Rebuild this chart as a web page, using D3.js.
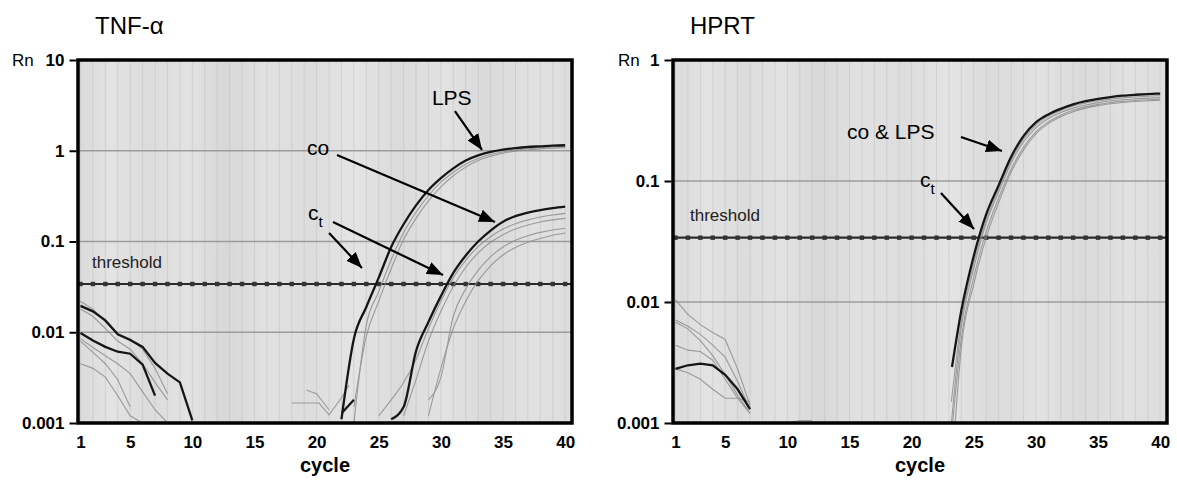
<!DOCTYPE html>
<html>
<head>
<meta charset="utf-8">
<script src="https://cdn.jsdelivr.net/npm/d3@7/dist/d3.min.js"></script>
<style>
  body { margin: 0; background: #fff; }
  svg { display: block; font-family: "Liberation Sans", Arial, sans-serif; }
</style>
</head>
<body>
<svg id="chart" width="1177" height="486"></svg>
<script>
// values, [cycle, Rn]
const cycleTicks = [1, 5, 10, 15, 20, 25, 30, 35, 40];
const thresholdRn = 0.034;
const tnfTicks = [0.001, 0.01, 0.1, 1, 10];
const hprtTicks = [0.001, 0.01, 0.1, 1];

// TNF-alpha : LPS group
const tnfLps = [[22,0.0011],[23,0.0085],[24,0.019],[25,0.04],[26,0.087],[27,0.155],[28,0.25],[29,0.37],[30,0.5],
  [31,0.64],[32,0.78],[33,0.89],[34,0.97],[35,1.03],[36,1.07],[37,1.1],[38,1.12],[39,1.14],[40,1.15]];
const tnfLpsRepA = [[23,0.001],[24,0.012],[25,0.028],[26,0.063],[27,0.125],[28,0.21],[29,0.32],[30,0.45],[31,0.58],
  [32,0.71],[33,0.82],[34,0.91],[35,0.97],[36,1.02],[37,1.05],[38,1.08],[39,1.1],[40,1.11]];
const tnfLpsRepB = [[23,0.0015],[24,0.009],[25,0.022],[26,0.05],[27,0.105],[28,0.18],[29,0.28],[30,0.4],[31,0.53],
  [32,0.66],[33,0.78],[34,0.87],[35,0.94],[36,0.99],[37,1.02],[38,1.05],[39,1.07],[40,1.08]];
const tnfStub = [[22.05,0.0013],[23,0.0018]];

// TNF-alpha : control (co) group
const tnfCo = [[26,0.0011],[27,0.0015],[28,0.0062],[29,0.013],[30,0.025],[31,0.045],[32,0.07],[33,0.1],[34,0.132],
  [35,0.165],[36,0.19],[37,0.208],[38,0.222],[39,0.233],[40,0.242]];
const tnfCoRepA = [[27,0.0012],[28,0.003],[29,0.008],[30,0.017],[31,0.032],[32,0.052],[33,0.075],[34,0.098],[35,0.119],
  [36,0.137],[37,0.152],[38,0.164],[39,0.173],[40,0.18]];
const tnfCoRepB = [[29,0.0018],[30,0.0032],[31,0.015],[32,0.03],[33,0.048],[34,0.068],[35,0.087],[36,0.103],[37,0.116],
  [38,0.126],[39,0.134],[40,0.14]];
const tnfCoRepC = [[29,0.0012],[30,0.004],[31,0.011],[32,0.022],[33,0.037],[34,0.054],[35,0.071],[36,0.086],[37,0.098],
  [38,0.108],[39,0.117],[40,0.124]];
const tnfCoRepD = [[25,0.0012],[26,0.0018],[27,0.0028],[28,0.005],[29,0.011],[30,0.022],[31,0.04],[32,0.062],[33,0.088],
  [34,0.113],[35,0.137],[36,0.157],[37,0.173],[38,0.186],[39,0.196],[40,0.204]];
const tnfNoiseA = [[18,0.00166],[20.2,0.00166],[21,0.00123],[22,0.0019],[22.6,0.0026]];
const tnfNoiseB = [[19.2,0.0023],[20,0.0021],[21,0.0014]];

// TNF-alpha : baseline cycles
const tnfBaseA = [[1,0.0195],[2,0.017],[3,0.0135],[4,0.0095],[5,0.0082],[6,0.0069],[7,0.0046],[8,0.0035],[9,0.0028],[10,0.00107]];
const tnfBaseB = [[1,0.0098],[2,0.0081],[3,0.0069],[4,0.0061],[5,0.0058],[6,0.0044],[7,0.002]];
const tnfBaseRep = [
  [[1,0.022],[2,0.018],[3,0.013],[4,0.0095],[5,0.0085],[6,0.0065],[7,0.004],[8,0.0021]],
  [[1,0.018],[2,0.015],[3,0.011],[4,0.008],[5,0.0065],[6,0.0045],[7,0.0028],[8,0.0018]],
  [[1,0.0085],[2,0.0068],[3,0.0055],[4,0.0045],[5,0.0035],[6,0.0022],[7,0.0014],[8,0.001]],
  [[1,0.008],[2,0.006],[3,0.0045],[4,0.003],[5,0.0015]],
  [[1,0.0045],[2,0.004],[3,0.0032],[4,0.002],[5,0.0012],[6,0.001]]
];

// HPRT : co & LPS group
const hprtMain = [[23.25,0.0029],[24,0.0085],[25,0.024],[26,0.053],[27,0.092],[28,0.158],[29,0.235],[30,0.305],[31,0.355],
  [32,0.395],[33,0.43],[34,0.457],[35,0.478],[36,0.494],[37,0.507],[38,0.516],[39,0.523],[40,0.528]];
const hprtRep = [
  [[23.2,0.0015],[24,0.007],[25,0.021],[26,0.048],[27,0.086],[28,0.148],[29,0.222],[30,0.29],[31,0.342],[32,0.383],
   [33,0.416],[34,0.441],[35,0.46],[36,0.474],[37,0.486],[38,0.495],[39,0.502],[40,0.507]],
  [[23.2,0.001],[24,0.0062],[25,0.019],[26,0.045],[27,0.081],[28,0.14],[29,0.21],[30,0.275],[31,0.328],[32,0.368],
   [33,0.4],[34,0.425],[35,0.444],[36,0.458],[37,0.469],[38,0.477],[39,0.484],[40,0.49]],
  [[23.3,0.001],[24,0.005],[25,0.016],[26,0.038],[27,0.072],[28,0.125],[29,0.19],[30,0.255],[31,0.308],[32,0.35],
   [33,0.384],[34,0.41],[35,0.43],[36,0.444],[37,0.455],[38,0.463],[39,0.469],[40,0.474]],
  [[23.5,0.001],[24,0.0042],[25,0.014],[26,0.034],[27,0.066],[28,0.118],[29,0.18],[30,0.245],[31,0.298],[32,0.34],
   [33,0.374],[34,0.4],[35,0.42],[36,0.435],[37,0.446],[38,0.454],[39,0.46],[40,0.465]]
];
const hprtBase = [[1,0.0028],[2,0.003],[3,0.0031],[4,0.003],[5,0.0025],[6,0.0019],[7,0.0013]];
const hprtBaseRep = [
  [[1,0.0104],[2,0.0079],[3,0.0065],[4,0.0056],[5,0.0049],[6,0.0028],[7,0.0014]],
  [[1,0.0071],[2,0.0063],[3,0.0054],[4,0.0044],[5,0.0035],[6,0.0022],[7,0.0013]],
  [[1,0.0068],[2,0.006],[3,0.0048],[4,0.0036],[5,0.0025],[6,0.0017],[7,0.0012]],
  [[1,0.0044],[2,0.004],[3,0.0039],[4,0.0033],[5,0.0023],[6,0.0016],[7,0.0012]],
  [[1,0.0028],[2,0.0026],[3,0.0023],[4,0.0019],[5,0.0016],[6,0.0016],[7,0.0015]]
];
const hprtNoise = [[10,0.001],[11,0.00105],[12,0.00105]];

// layout
const plotTop = 60, plotBottom = 423, plotW = 494;
const cycleDomain = [0.8, 40.55];

const svg = d3.select("#chart");
const defs = svg.append("defs");

defs.append("marker")
    .attr("id", "arrow")
    .attr("viewBox", "0 -7 16 14")
    .attr("refX", 16)
    .attr("refY", 0)
    .attr("markerUnits", "userSpaceOnUse")
    .attr("markerWidth", 16)
    .attr("markerHeight", 14)
    .attr("orient", "auto")
  .append("path")
    .attr("d", "M0,-6.5L16,0L0,6.5Z")
    .attr("fill", "#000");

// scanned paper look: soft vertical banding
const band = defs.append("linearGradient").attr("id", "bands").attr("x1", 0).attr("x2", 1).attr("y1", 0).attr("y2", 0);
[["0", "#dbdbdb"], ["0.07", "#e3e3e3"], ["0.14", "#dcdcdc"], ["0.22", "#e2e2e2"], ["0.3", "#d8d8d8"], ["0.38", "#e1e1e1"],
 ["0.47", "#dddddd"], ["0.56", "#e4e4e4"], ["0.65", "#dbdbdb"], ["0.74", "#e2e2e2"], ["0.83", "#dadada"], ["0.92", "#e1e1e1"],
 ["1", "#dddddd"]].forEach(s => band.append("stop").attr("offset", s[0]).attr("stop-color", s[1]));

const panels = [
  {
    id: "tnf", left: 78, title: "TNF-\u03b1", yDomain: [0.001, 10], yTicks: tnfTicks, rnX: 12,
    gray: [tnfLpsRepA, tnfLpsRepB, tnfCoRepA, tnfCoRepB, tnfCoRepC, tnfCoRepD],
    grayBase: [tnfNoiseA, tnfNoiseB].concat(tnfBaseRep),
    dark: [tnfLps, tnfCo],
    darkBase: [tnfStub, tnfBaseA, tnfBaseB],
    thresholdLabel: [1.93, 0.051],
    texts: [
      {t: "LPS", at: [29.28, 3.19]},
      {t: "co", at: [19.23, 0.90]},
      {t: "c", sub: "t", at: [19.31, 0.173]}
    ],
    arrows: [
      [[31.13, 2.74], [33.31, 1.02]],
      [[21.64, 0.90], [34.35, 0.164]],
      [[21.0, 0.124], [23.65, 0.051]],
      [[21.32, 0.164], [30.17, 0.0428]]
    ]
  },
  {
    id: "hprt", left: 673, title: "HPRT", yDomain: [0.001, 1], yTicks: hprtTicks, rnX: 618,
    gray: hprtRep,
    grayBase: hprtBaseRep.concat([hprtNoise]),
    dark: [hprtMain],
    darkBase: [hprtBase],
    thresholdLabel: [2.17, 0.0467],
    texts: [
      {t: "co & LPS", at: [14.8, 0.222]},
      {t: "c", sub: "t", at: [20.67, 0.089]}
    ],
    arrows: [
      [[23.97, 0.231], [27.27, 0.177]],
      [[22.36, 0.0796], [25.02, 0.0401]]
    ]
  }
];

panels.forEach(drawPanel);

function drawPanel(p) {
  const x = d3.scaleLinear().domain(cycleDomain).range([p.left, p.left + plotW]);
  const y = d3.scaleLog().domain(p.yDomain).range([plotBottom, plotTop]);
  const g = svg.append("g");

  defs.append("clipPath").attr("id", "clip-" + p.id)
    .append("rect").attr("x", p.left).attr("y", plotTop).attr("width", plotW).attr("height", plotBottom - plotTop);

  g.append("rect")
      .attr("x", p.left).attr("y", plotTop)
      .attr("width", plotW).attr("height", plotBottom - plotTop)
      .attr("fill", "url(#bands)");

  // faint vertical rulings, one per cycle
  g.append("g").selectAll("line")
    .data(d3.range(1, 41))
    .join("line")
      .attr("x1", d => x(d)).attr("x2", d => x(d))
      .attr("y1", plotTop).attr("y2", plotBottom)
      .attr("stroke", "#bcbcbc").attr("stroke-width", 1).attr("opacity", 0.45);

  // decade lines
  g.append("g").selectAll("line")
    .data(p.yTicks.slice(1, -1))
    .join("line")
      .attr("x1", p.left).attr("x2", p.left + plotW)
      .attr("y1", d => y(d)).attr("y2", d => y(d))
      .attr("stroke", "#9c9c9c").attr("stroke-width", 1.5);

  const plot = g.append("g").attr("clip-path", "url(#clip-" + p.id + ")");

  // threshold with square markers
  plot.append("line")
      .attr("x1", p.left).attr("x2", p.left + plotW)
      .attr("y1", y(thresholdRn)).attr("y2", y(thresholdRn))
      .attr("stroke", "#2a2a2a").attr("stroke-width", 2.2);
  plot.append("g").selectAll("rect")
    .data(d3.range(1, 41))
    .join("rect")
      .attr("x", d => x(d) - 2.2).attr("y", y(thresholdRn) - 2.2)
      .attr("width", 4.4).attr("height", 4.4)
      .attr("fill", "#333");

  const smooth = d3.line()
      .x(d => x(d[0]))
      .y(d => y(d[1]))
      .curve(d3.curveMonotoneX);
  const straight = d3.line()
      .x(d => x(d[0]))
      .y(d => y(d[1]));

  const gray = plot.append("g")
      .attr("fill", "none").attr("stroke", "#8a8a8a")
      .attr("stroke-width", 1.1).attr("opacity", 0.8);
  gray.selectAll(".s").data(p.gray).join("path").attr("class", "s").attr("d", smooth);
  gray.selectAll(".b").data(p.grayBase).join("path").attr("class", "b").attr("d", straight);

  const dark = plot.append("g")
      .attr("fill", "none").attr("stroke", "#161616").attr("stroke-width", 2.3);
  dark.selectAll(".s").data(p.dark).join("path").attr("class", "s").attr("d", smooth);
  dark.selectAll(".b").data(p.darkBase).join("path").attr("class", "b").attr("d", straight);

  // frame
  g.append("rect")
      .attr("x", p.left).attr("y", plotTop)
      .attr("width", plotW).attr("height", plotBottom - plotTop)
      .attr("fill", "none").attr("stroke", "#000").attr("stroke-width", 3.5);

  // axes
  const yAxis = g.append("g")
      .attr("transform", "translate(" + (p.left - 1.5) + ",0)")
      .call(d3.axisLeft(y).tickValues(p.yTicks).tickFormat(d3.format("~g")).tickSize(7).tickPadding(5));
  yAxis.select(".domain").remove();
  yAxis.selectAll("line").attr("stroke-width", 2);
  yAxis.selectAll("text").attr("font-size", 17).attr("font-weight", "bold").attr("font-family", "Liberation Sans, Arial, sans-serif").attr("fill", "#000");

  const xAxis = g.append("g")
      .attr("transform", "translate(0," + plotBottom + ")")
      .call(d3.axisBottom(x).tickValues(cycleTicks).tickSize(0).tickPadding(13));
  xAxis.select(".domain").remove();
  xAxis.selectAll("text").attr("font-size", 17).attr("font-weight", "bold").attr("font-family", "Liberation Sans, Arial, sans-serif").attr("fill", "#000");

  g.append("text")
      .attr("x", p.left + plotW / 2).attr("y", 472)
      .attr("text-anchor", "middle")
      .attr("font-size", 20).attr("font-weight", "bold")
      .text("cycle");

  g.append("text")
      .attr("x", p.rnX).attr("y", 66)
      .attr("font-size", 17)
      .text("Rn");

  g.append("text")
      .attr("x", p.left + 17).attr("y", 34)
      .attr("font-size", 24)
      .text(p.title);

  g.append("text")
      .attr("x", x(p.thresholdLabel[0])).attr("y", y(p.thresholdLabel[1]))
      .attr("font-size", 17).attr("fill", "#222")
      .text("threshold");

  // annotations
  p.texts.forEach(a => {
    const t = g.append("text")
        .attr("x", x(a.at[0])).attr("y", y(a.at[1]))
        .attr("font-size", 21)
        .text(a.t);
    if (a.sub) {
      t.append("tspan").attr("font-size", 15).attr("dy", 7).text(a.sub);
    }
  });

  g.append("g").selectAll("line")
    .data(p.arrows)
    .join("line")
      .attr("x1", d => x(d[0][0])).attr("y1", d => y(d[0][1]))
      .attr("x2", d => x(d[1][0])).attr("y2", d => y(d[1][1]))
      .attr("stroke", "#000").attr("stroke-width", 2.2)
      .attr("marker-end", "url(#arrow)");
}
</script>
</body>
</html>
